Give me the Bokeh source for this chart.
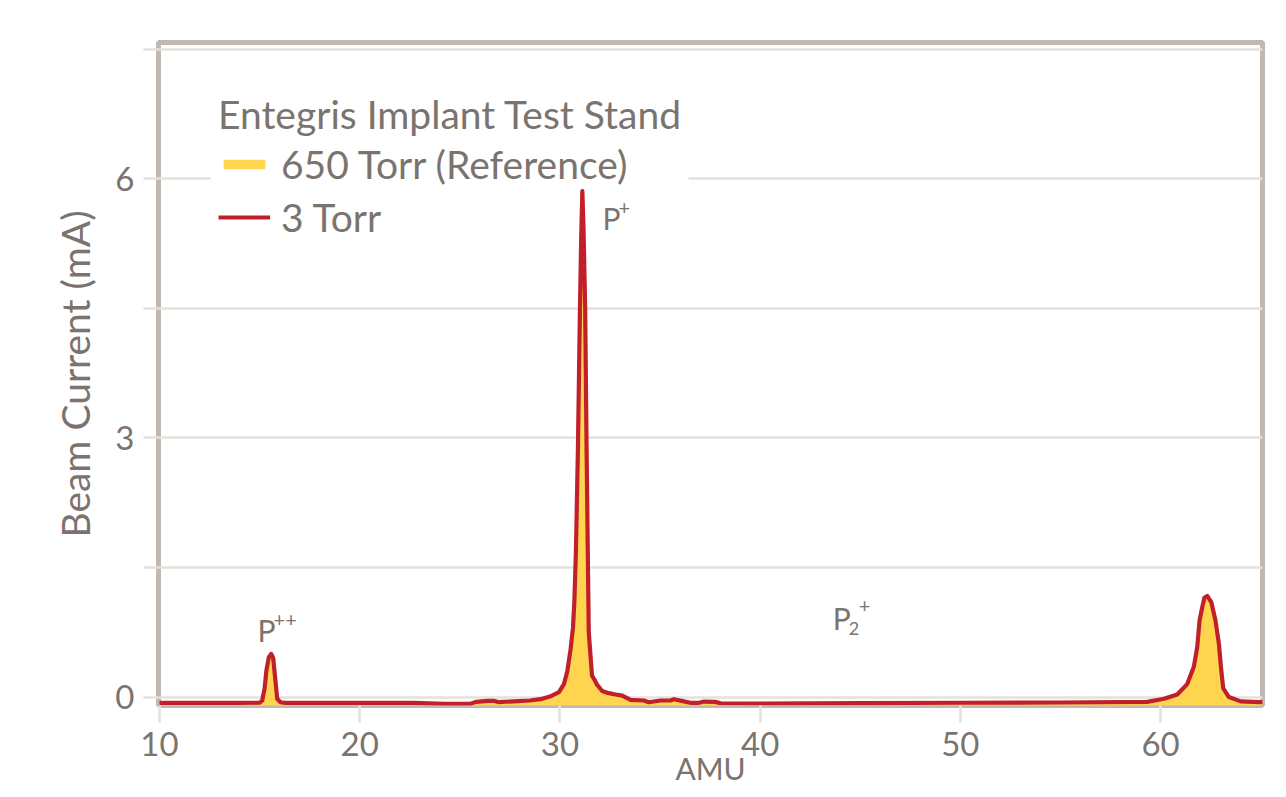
from bokeh.plotting import figure
from bokeh.models import (ColumnDataSource, FixedTicker, Legend, LegendItem, Label)
from bokeh.embed import file_html
from bokeh.resources import INLINE

# ---------------- data ----------------
amu = [10.0, 12.0, 14.0, 15.0, 15.13, 15.25, 15.34, 15.46, 15.58, 15.68, 15.79, 15.88,
       16.04, 16.3, 18.0, 20.0, 22.7, 24.2, 25.5, 25.8, 26.4, 26.7, 26.9, 27.7, 28.5,
       29.03, 29.5, 29.95, 30.2, 30.37, 30.53, 30.65, 30.72, 30.8, 30.9, 31.0, 31.06,
       31.12, 31.18, 31.26, 31.33, 31.4, 31.44, 31.6, 31.75, 31.86, 32.11, 32.44, 32.78,
       33.11, 33.53, 34.19, 34.44, 35.02, 35.52, 35.69, 36.19, 36.52, 36.94, 37.19,
       37.77, 38.02, 40.0, 45.0, 50.0, 55.0, 59.33, 60.17, 60.83, 61.33, 61.66, 61.83,
       61.95, 62.08, 62.19, 62.33, 62.53, 62.74, 62.91, 63.03, 63.13, 63.41, 64.0,
       64.92, 65.1]

current_3torr = [-0.068, -0.068, -0.068, -0.066, -0.04, 0.10, 0.31, 0.46, 0.50, 0.45,
                 0.19, -0.02, -0.06, -0.068, -0.068, -0.068, -0.068, -0.08, -0.08,
                 -0.056, -0.044, -0.044, -0.058, -0.05, -0.04, -0.025, 0.006, 0.056,
                 0.15, 0.30, 0.55, 0.80, 1.10, 1.70, 2.90, 4.50, 5.30, 5.86, 5.40, 4.50,
                 2.90, 1.50, 0.75, 0.25, 0.19, 0.14, 0.07, 0.045, 0.03, 0.017, -0.033,
                 -0.04, -0.06, -0.04, -0.04, -0.025, -0.05, -0.067, -0.067, -0.052,
                 -0.056, -0.072, -0.075, -0.07, -0.066, -0.063, -0.056, -0.02, 0.03,
                 0.15, 0.35, 0.58, 0.89, 1.04, 1.15, 1.17, 1.10, 0.89, 0.62, 0.31, 0.10,
                 0.0, -0.05, -0.06, -0.06]

current_650torr = [-0.07, -0.07, -0.07, -0.068, -0.045, 0.09, 0.29, 0.44, 0.47, 0.42,
                   0.17, -0.03, -0.065, -0.07, -0.07, -0.07, -0.07, -0.082, -0.082,
                   -0.06, -0.05, -0.05, -0.062, -0.055, -0.045, -0.03, 0.0, 0.05,
                   0.14, 0.28, 0.52, 0.77, 1.05, 1.62, 2.80, 4.40, 5.20, 5.72, 5.28,
                   4.40, 2.80, 1.42, 0.70, 0.23, 0.17, 0.12, 0.06, 0.04, 0.025, 0.012,
                   -0.038, -0.045, -0.065, -0.045, -0.045, -0.03, -0.055, -0.07, -0.07,
                   -0.056, -0.06, -0.075, -0.078, -0.073, -0.069, -0.066, -0.06, -0.025,
                   0.025, 0.14, 0.33, 0.55, 0.86, 1.01, 1.12, 1.14, 1.07, 0.86, 0.59,
                   0.29, 0.08, -0.01, -0.055, -0.065, -0.065]

x_ticks = [10, 20, 30, 40, 50, 60]
y_ticks = [0, 1.5, 3, 4.5, 6, 7.5]
y_tick_labels = {0: "0", 1.5: "", 3: "3", 4.5: "", 6: "6", 7.5: ""}

legend_title = "Entegris Implant Test Stand"
series_names = ["650 Torr (Reference)", "3 Torr"]
x_label = "AMU"
y_label = "Beam Current (mA)"
# (base, superscript, subscript, x, y)
peak_labels = [("P", "++", "", 14.9, 0.78), ("P", "+", "", 32.13, 5.55),
               ("P", "+", "2", 43.62, 0.91)]

# ---------------- style ----------------
FONT = "Lato"
TXT = "#7b736e"
GRID = "#e6e1db"
FRAME = "#c0b9b1"
YELLOW = "#ffd54f"
RED = "#c1202b"
Y_FLOOR = -0.12

src = ColumnDataSource(dict(amu=amu, t3=current_3torr, t650=current_650torr))

p = figure(width=1278, height=789, output_backend="svg", toolbar_location=None,
           x_range=(9.95, 65.09), y_range=(-0.098, 7.58),
           min_border_left=158, min_border_right=16, min_border_top=42, min_border_bottom=84)
p.background_fill_color = "white"
p.border_fill_color = "white"
p.outline_line_color = FRAME
p.outline_line_width = 5

# axes
p.xaxis.ticker = FixedTicker(ticks=x_ticks)
p.yaxis.ticker = FixedTicker(ticks=y_ticks)
p.yaxis.major_label_overrides = y_tick_labels
for ax in (p.xaxis[0], p.yaxis[0]):
    ax.axis_line_color = None
    ax.minor_tick_line_color = None
    ax.major_tick_in = 0
    ax.major_tick_line_color = GRID
    ax.major_tick_line_width = 2.6
    ax.major_label_text_font = FONT
    ax.major_label_text_font_size = "33px"
    ax.major_label_text_color = TXT
    ax.major_label_standoff = 9
    ax.axis_label_text_font = FONT
    ax.axis_label_text_font_style = "normal"
    ax.axis_label_text_color = TXT
p.xaxis.major_tick_out = 17
p.yaxis.major_tick_out = 15
p.yaxis.axis_label = y_label
p.yaxis.axis_label_text_font_size = "39px"
p.yaxis.axis_label_standoff = 14
p.xaxis.axis_label = x_label
p.xaxis.axis_label_text_font_size = "30px"
p.xaxis.axis_label_standoff = -9

p.xgrid.grid_line_color = None
p.ygrid.ticker = FixedTicker(ticks=y_ticks)
p.ygrid.grid_line_color = GRID
p.ygrid.grid_line_width = 2.6

# white backing of the legend: hides the grid line but stays under the data
p.quad(left=[12.55], right=[36.42], bottom=[5.2], top=[7.05],
       fill_color="white", line_color=None)

# data
r_fill = p.varea(x="amu", y1=Y_FLOOR, y2="t650", source=src, fill_color=YELLOW)
r_line = p.line(x="amu", y="t3", source=src, line_color=RED, line_width=4.2,
                line_join="round")

# legend (transparent, so the data stays visible)
legend = Legend(items=[LegendItem(label=series_names[0], renderers=[r_fill]),
                       LegendItem(label=series_names[1], renderers=[r_line])],
                title=legend_title, location=(60, 465))
legend.title_text_font = FONT
legend.title_text_font_size = "39px"
legend.title_text_font_style = "normal"
legend.title_text_color = TXT
legend.title_standoff = 4
legend.label_text_font = FONT
legend.label_text_font_size = "39px"
legend.label_text_color = TXT
legend.glyph_width = 52
legend.glyph_height = 12
legend.label_standoff = 11
legend.spacing = 7
legend.padding = 9
legend.margin = 0
legend.border_line_color = None
legend.background_fill_alpha = 0.0
p.add_layout(legend)

# peak annotations
for base, sup, sub, lx, ly in peak_labels:
    p.add_layout(Label(x=lx, y=ly, text=base, text_font=FONT, text_font_size="30px",
                       text_color=TXT, text_baseline="alphabetic"))
    if sub:
        p.add_layout(Label(x=lx, y=ly, x_offset=16, y_offset=-10, text=sub, text_font=FONT,
                           text_font_size="18px", text_color=TXT,
                           text_baseline="alphabetic"))
        p.add_layout(Label(x=lx, y=ly, x_offset=26, y_offset=12, text=sup, text_font=FONT,
                           text_font_size="20px", text_color=TXT,
                           text_baseline="alphabetic"))
    else:
        p.add_layout(Label(x=lx, y=ly, x_offset=16, y_offset=10,
                           text=sup, text_font=FONT, text_font_size="20px",
                           text_color=TXT, text_baseline="alphabetic"))

open("out.html", "w").write(file_html(p, INLINE))
